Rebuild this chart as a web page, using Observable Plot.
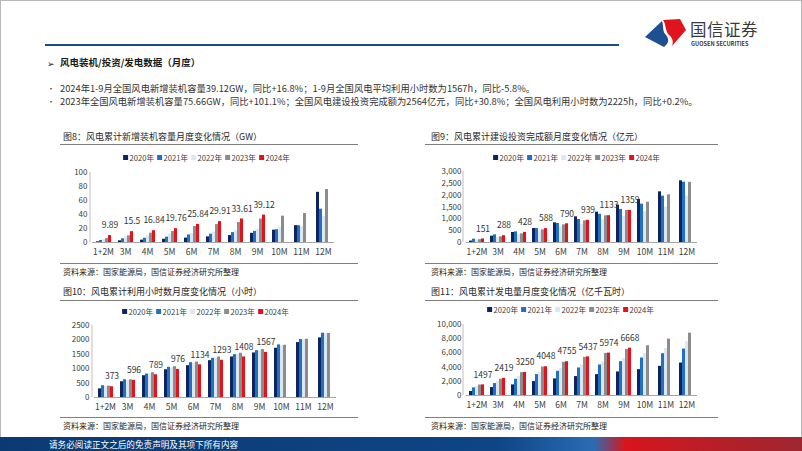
<!DOCTYPE html>
<html><head><meta charset="utf-8">
<script src="https://cdn.jsdelivr.net/npm/d3@7"></script>
<script src="https://cdn.jsdelivr.net/npm/@observablehq/plot@0.6"></script>
<style>
html,body{margin:0;padding:0;}
body{width:802px;height:451px;overflow:hidden;position:relative;background:#fff;font-family:"Noto Sans CJK SC","Noto Sans",sans-serif;color:#222;}
.abs{position:absolute;white-space:nowrap;}
#frame{position:absolute;left:0;top:0;width:800px;height:449px;border:1px solid #b8b8b8;pointer-events:none;}
.legend{position:absolute;display:flex;align-items:center;transform:translateX(-50%);font-size:7.6px;color:#404040;white-space:nowrap;}
.legend span.sw{display:inline-block;width:5px;height:5px;margin-right:1.5px;}
.legend span.it{display:inline-flex;align-items:center;margin-right:3px;}
</style></head>
<body>
<div id="frame"></div>
<script>
// ---------- data ----------
const months = ["1+2M","3M","4M","5M","6M","7M","8M","9M","10M","11M","12M"];
const years = ["2020年","2021年","2022年","2023年","2024年"];
const colors = ["#0c2461","#2270c2","#dce7f4","#8c8c8c","#e5121b"];

// 图8 风电累计新增装机容量 (GW)
const cap2020 = [1.0, 2.4, 3.4, 4.6, 6.3, 8.0, 9.9, 13.1, 17.6, 24.1, 71.7];
const cap2021 = [2.9, 5.3, 6.1, 7.6, 10.8, 11.9, 14.1, 15.9, 18.3, 24.0, 47.6];
const cap2022 = [4.4, 7.9, 10.0, 12.0, 12.9, 15.0, 16.9, 19.2, 21.1, 22.5, 37.6];
const cap2023 = [5.5, 9.5, 13.3, 15.7, 22.8, 25.6, 28.5, 33.5, 37.6, 41.4, 75.7];
const cap2024 = [9.89, 15.5, 16.84, 19.76, 25.84, 29.91, 33.61, 39.12];
const capTicks = [0, 20, 40, 60, 80, 100];

// 图9 风电累计建设投资完成额 (亿元)
const inv2020 = [60, 268, 423, 592, 831, 1085, 1282, 1578, 1817, 2141, 2606];
const inv2021 = [141, 324, 451, 592, 803, 972, 1190, 1394, 1620, 1958, 2549];
const inv2022 = [100, 220, 330, 480, 650, 780, 950, 1100, 1300, 1500, 1960];
const inv2023 = [120, 240, 366, 535, 746, 915, 1127, 1352, 1704, 2014, 2540];
const inv2024 = [151, 288, 428, 588, 790, 939, 1133, 1359];
const invTicks = [0, 500, 1000, 1500, 2000, 2500, 3000];

// 图10 风电累计利用小时数 (小时)
const hrs2020 = [300, 547, 756, 965, 1105, 1279, 1407, 1547, 1709, 1907, 2070];
const hrs2021 = [410, 616, 814, 1047, 1209, 1360, 1488, 1628, 1826, 2012, 2233];
const hrs2022 = [390, 590, 820, 1030, 1190, 1370, 1510, 1640, 1800, 2010, 2221];
const hrs2023 = [395, 616, 860, 1070, 1233, 1407, 1535, 1663, 1814, 2023, 2225];
const hrs2024 = [373, 596, 789, 976, 1134, 1293, 1408, 1567];
const hrsTicks = [0, 500, 1000, 1500, 2000, 2500];

// 图11 风电累计发电量 (亿千瓦时)
const gen2020 = [561, 1121, 1495, 1963, 2336, 2664, 2944, 3318, 3645, 4112, 4579];
const gen2021 = [1075, 1682, 2290, 2944, 3411, 3879, 4299, 4766, 5280, 5888, 6542];
const gen2022 = [1250, 1980, 2670, 3280, 3840, 4300, 4700, 5200, 5900, 6600, 7550];
const gen2023 = [1480, 2290, 3224, 4019, 4673, 5374, 5935, 6495, 7009, 7944, 8785];
const gen2024 = [1497, 2419, 3250, 4048, 4755, 5437, 5974, 6668];
const genTicks = [0, 2000, 4000, 6000, 8000, 10000];

const bullets = [
  "2024年1-9月全国风电新增装机容量39.12GW，同比+16.8%；1-9月全国风电平均利用小时数为1567h，同比-5.8%。",
  "2023年全国风电新增装机容量75.66GW，同比+101.1%；全国风电建设投资完成额为2564亿元，同比+30.8%；全国风电利用小时数为2225h，同比+0.2%。"
];
const source = "资料来源：国家能源局，国信证券经济研究所整理";

// ---------- helpers ----------
const FONT = '"Noto Sans CJK SC","Noto Sans",sans-serif';
function txt(s, x, yc, size, style = "") {
  const d = document.createElement("div");
  d.className = "abs";
  d.textContent = s;
  d.style.cssText += `left:${x}px;top:${yc - size * 0.6}px;font-size:${size}px;line-height:${size * 1.2}px;${style}`;
  document.body.appendChild(d);
  return d;
}
function hline(x1, x2, y, color, w = 1) {
  const d = document.createElement("div");
  d.className = "abs";
  d.style.cssText += `left:${x1}px;top:${y}px;width:${x2 - x1}px;height:${w}px;background:${color};`;
  document.body.appendChild(d);
}
function legend(cx, yc) {
  const d = document.createElement("div");
  d.className = "legend";
  d.style.left = cx + "px";
  d.style.top = (yc - 6) + "px";
  d.style.height = "12px";
  years.forEach((y, i) => {
    const it = document.createElement("span");
    it.className = "it";
    it.innerHTML = `<span class="sw" style="background:${colors[i]}"></span>${y}`;
    d.appendChild(it);
  });
  document.body.appendChild(d);
}

function chart(series, yDomain, ticks, fmt, box) {
  const rows = [];
  years.forEach((yr, i) => series[i].forEach((v, j) => rows.push({month: months[j], year: yr, value: v})));
  const p = Plot.plot({
    width: box.w, height: box.h,
    marginLeft: box.ml, marginRight: box.mr, marginTop: box.mt, marginBottom: box.mb,
    style: {fontFamily: FONT, color: "#404040", background: "transparent", overflow: "visible"},
    fx: {domain: months, padding: 0, label: null},
    x: {domain: years, axis: null, paddingInner: 0, paddingOuter: 0.85},
    y: {domain: yDomain, label: null},
    color: {domain: years, range: colors},
    marks: [
      Plot.axisY({ticks, tickFormat: fmt, tickSize: 0, tickPadding: 5, fontSize: 8, label: null}),
      Plot.axisFx({anchor: "bottom", tickSize: 0, tickPadding: 6, fontSize: 8.5, label: null}),
      Plot.barY(rows, {fx: "month", x: "year", y: "value", fill: "year"}),
      Plot.ruleY([0], {stroke: "#a6a6a6", strokeWidth: 1}),
      Plot.text(rows.filter(d => d.year === "2024年"), {fx: "month", x: "year", y: "value", text: d => String(d.value), dy: -10, fontSize: 8.5, fill: "#333"})
    ]
  });
  // y-axis line (domain line) along the left edge of the plot area
  d3.select(p).append("line")
    .attr("x1", box.ml).attr("x2", box.ml)
    .attr("y1", box.mt).attr("y2", box.h - box.mb)
    .attr("stroke", "#bfbfbf");
  p.style.position = "absolute";
  p.style.left = box.x + "px";
  p.style.top = box.y + "px";
  document.body.appendChild(p);
}

// ---------- header ----------
const logo = `<svg class="abs" style="left:0;top:0" width="802" height="60">
<path d="M645,37 L662,21 C664,27 662,31 666,35 C670,40 668,44 664,47 Z" fill="#1d4f91"/>
<path d="M663,20 L680,19 L686,30 L672,46 C674,41 672,37 668,34 C665,29 666,24 663,20 Z" fill="#e0141e"/>
</svg>`;
document.body.insertAdjacentHTML("beforeend", logo);
txt("国信证券", 690, 30, 16.5, "color:#3a3a3a;letter-spacing:0.5px;");
txt("GUOSEN SECURITIES", 691, 44.5, 5.6, "color:#3a3a3a;font-weight:700;");
hline(45, 619, 44, "#1b4a86", 2);
txt("➢", 47, 63, 8.5, "color:#222;");
txt("风电装机/投资/发电数据（月度）", 60, 63, 9.5, "font-weight:700;color:#1a1a1a;");
txt("•", 47, 88.5, 8, "color:#444;");
txt(bullets[0], 60, 88.5, 9.3, "color:#333;");
txt("•", 47, 101.5, 8, "color:#444;");
txt(bullets[1], 60, 101.5, 9.3, "color:#333;");

// ---------- chart frames ----------
const titles = [
  "图8：风电累计新增装机容量月度变化情况（GW）",
  "图9：风电累计建设投资完成额月度变化情况（亿元）",
  "图10：风电累计利用小时数月度变化情况（小时）",
  "图11：风电累计发电量月度变化情况（亿千瓦时）"
];
const panels = [
  {tx: 63, ty: 137, lx1: 60, lx2: 358, ly: 144, legX: 208, legY: 157, sy: 263, sty: 272},
  {tx: 431, ty: 137, lx1: 425, lx2: 718, ly: 144, legX: 578, legY: 157, sy: 263, sty: 272},
  {tx: 63, ty: 292, lx1: 60, lx2: 358, ly: 300, legX: 207, legY: 311, sy: 417, sty: 426},
  {tx: 431, ty: 292, lx1: 425, lx2: 718, ly: 300, legX: 572, legY: 309, sy: 417, sty: 426}
];
panels.forEach((pn, i) => {
  txt(titles[i], pn.tx, pn.ty, 9, "color:#262626;");
  hline(pn.lx1, pn.lx2, pn.ly, "#7f7f7f", 1);
  legend(pn.legX, pn.legY);
  hline(pn.lx1, pn.lx2, pn.sy, "#7f7f7f", 1);
  txt(source, pn.tx, pn.sty, 8, "color:#262626;");
});

const fmtComma = d3.format(",");
const fmtPlain = d => String(d);
chart([cap2020, cap2021, cap2022, cap2023, cap2024], [0, 100], capTicks, fmtPlain,
  {x: 40, y: 162, w: 303, h: 100, ml: 50, mr: 8, mt: 10, mb: 20});
chart([inv2020, inv2021, inv2022, inv2023, inv2024], [0, 3000], invTicks, fmtComma,
  {x: 410, y: 161, w: 298, h: 101, ml: 53, mr: 8, mt: 10, mb: 20});
chart([hrs2020, hrs2021, hrs2022, hrs2023, hrs2024], [0, 2500], hrsTicks, fmtPlain,
  {x: 40, y: 315, w: 306, h: 102, ml: 52, mr: 8, mt: 10, mb: 20});
chart([gen2020, gen2021, gen2022, gen2023, gen2024], [0, 10000], genTicks, fmtComma,
  {x: 410, y: 314, w: 298, h: 101, ml: 53, mr: 8, mt: 10, mb: 20});

// ---------- footer ----------
const foot = document.createElement("div");
foot.className = "abs";
foot.style.cssText += "left:0;top:437px;width:802px;height:14px;background:linear-gradient(90deg,#0b3a73 0%,#0e4585 62%,#2a6cb4 74%,#d9141c 78%,#c41b24 84%,#9e2630 100%);";
document.body.appendChild(foot);
txt("请务必阅读正文之后的免责声明及其项下所有内容", 49, 444, 8.6, "color:#ffffff;");
</script>
</body></html>
